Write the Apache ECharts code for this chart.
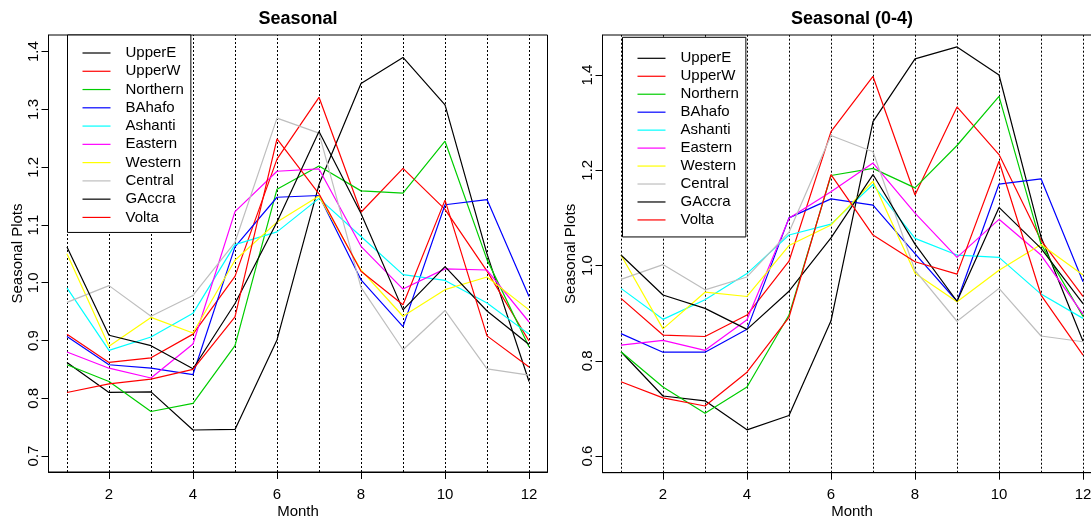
<!DOCTYPE html>
<html>
<head>
<meta charset="utf-8">
<script src="https://cdn.jsdelivr.net/npm/echarts@6/dist/echarts.min.js"></script>
<style>
html,body{margin:0;padding:0;background:#fff;overflow:hidden;}
#c{width:1091px;height:517px;}
</style>
</head>
<body>
<div id="c"></div>
<script>
// ---- data ----
const months = [1,2,3,4,5,6,7,8,9,10,11,12];
const seriesNames = ['UpperE','UpperW','Northern','BAhafo','Ashanti','Eastern','Western','Central','GAccra','Volta'];
const seriesColors = ['#000000','#FF0000','#00CD00','#0000FF','#00FFFF','#FF00FF','#FFFF00','#BEBEBE','#000000','#FF0000'];
const xTicks = [2,4,6,8,10,12];
const yTicksAll = [0.7,0.8,0.9,1.0,1.1,1.2,1.3,1.4];
const yTicks04 = [0.6,0.8,1.0,1.2,1.4];

// Panel 1: "Seasonal"
const upperE_all   = [0.862,0.810,0.811,0.745,0.746,0.901,1.170,1.345,1.390,1.308,1.050,0.829];
const upperW_all   = [0.911,0.862,0.870,0.911,1.011,1.214,1.321,1.122,1.198,1.127,1.020,0.899];
const northern_all = [0.858,0.829,0.777,0.791,0.891,1.162,1.202,1.159,1.155,1.245,1.040,0.889];
const bahafo_all   = [0.907,0.858,0.852,0.841,1.062,1.148,1.151,1.005,0.924,1.135,1.144,0.976];
const ashanti_all  = [0.991,0.883,0.906,0.947,1.066,1.088,1.146,1.080,1.014,1.004,0.965,0.911];
const eastern_all  = [0.880,0.852,0.835,0.894,1.123,1.193,1.197,1.063,0.989,1.024,1.022,0.932];
const western_all  = [1.050,0.890,0.940,0.913,1.039,1.105,1.150,1.022,0.942,0.988,1.010,0.953];
const central_all  = [0.966,0.995,0.942,0.978,1.070,1.285,1.259,0.992,0.884,0.952,0.851,0.840];
const gaccra_all   = [1.062,0.909,0.891,0.851,0.964,1.105,1.262,1.120,0.953,1.028,0.951,0.893];
const volta_all    = [0.810,0.825,0.833,0.850,0.941,1.249,1.154,1.020,0.962,1.143,0.908,0.854];

// Panel 2: "Seasonal (0-4)"
const upperE_04   = [0.819,0.726,0.716,0.655,0.685,0.884,1.302,1.434,1.459,1.400,1.060,0.841];
const upperW_04   = [0.931,0.854,0.851,0.896,1.009,1.281,1.397,1.148,1.333,1.233,1.053,0.935];
const northern_04 = [0.819,0.745,0.690,0.745,0.896,1.189,1.204,1.163,1.252,1.355,1.045,0.893];
const bahafo_04   = [0.857,0.818,0.818,0.866,1.100,1.140,1.127,1.025,0.925,1.171,1.182,0.966];
const ashanti_04  = [0.952,0.887,0.928,0.983,1.064,1.087,1.170,1.057,1.022,1.017,0.940,0.889];
const eastern_04  = [0.833,0.843,0.822,0.886,1.099,1.155,1.215,1.110,1.017,1.097,1.022,0.898];
const western_04  = [1.022,0.867,0.944,0.935,1.042,1.085,1.177,0.984,0.924,0.990,1.044,0.980];
const central_04  = [0.971,1.002,0.949,0.976,1.070,1.273,1.239,0.990,0.883,0.952,0.852,0.840];
const gaccra_04   = [1.022,0.938,0.910,0.866,0.946,1.058,1.191,1.045,0.925,1.122,1.036,0.920];
const volta_04    = [0.756,0.722,0.705,0.776,0.891,1.191,1.064,1.008,0.982,1.219,0.938,0.812];

const panelAll = [upperE_all,upperW_all,northern_all,bahafo_all,ashanti_all,eastern_all,western_all,central_all,gaccra_all,volta_all];
const panel04  = [upperE_04,upperW_04,northern_04,bahafo_04,ashanti_04,eastern_04,western_04,central_04,gaccra_04,volta_04];

// ---- chart ----
const FONT = 'Liberation Sans, Arial, sans-serif';
const chart = echarts.init(document.getElementById('c'), null, {renderer:'canvas'});

function makeSeries(panel, idx) {
  return panel.map((vals, i) => {
    const s = {
      name: seriesNames[i],
      type: 'line',
      xAxisIndex: idx,
      yAxisIndex: idx,
      data: months.map((m, k) => [m, vals[k]]),
      symbol: 'none',
      silent: true,
      color: seriesColors[i],
      lineStyle: {color: seriesColors[i], width: 1.2},
      z: 3
    };
    if (i === 0) {
      s.markLine = {
        silent: true,
        symbol: ['none','none'],
        label: {show: false},
        lineStyle: {color: '#000', width: 1, type: [2,2]},
        z: 1,
        data: months.map(m => ({xAxis: m}))
      };
    }
    return s;
  });
}

function xAxisDef(idx) {
  return {
    type: 'value', gridIndex: idx, min: 0.56, max: 12.44,
    name: 'Month', nameLocation: 'middle', nameGap: 32, nameMoveOverlap: false,
    nameTextStyle: {fontFamily: FONT, fontSize: 15, color: '#000', verticalAlign: 'top'},
    axisLine: {show: true, onZero: false, lineStyle: {color: '#000', width: 1}},
    axisTick: {show: true, inside: false, length: 7, customValues: xTicks, lineStyle: {color: '#000'}},
    axisLabel: {show: true, customValues: xTicks, margin: 15, fontFamily: FONT, fontSize: 15, color: '#000'},
    splitLine: {show: false}
  };
}
function yAxisDef(idx, mn, mx, ticks, lm, ng) {
  return {
    type: 'value', gridIndex: idx, min: mn, max: mx,
    name: 'Seasonal Plots', nameLocation: 'middle', nameGap: ng, nameRotate: 90, nameMoveOverlap: false,
    nameTextStyle: {fontFamily: FONT, fontSize: 15, color: '#000'},
    axisLine: {show: true, onZero: false, lineStyle: {color: '#000', width: 1}},
    axisTick: {show: true, inside: false, length: 7, customValues: ticks, lineStyle: {color: '#000'}},
    axisLabel: {show: true, customValues: ticks, rotate: 90, margin: lm, fontFamily: FONT, fontSize: 15, color: '#000',
      formatter: v => Number(v).toFixed(1)},
    splitLine: {show: false}
  };
}
function legendDef(left, top, gap, pad) {
  return {
    data: seriesNames.map(n => ({name: n})),
    orient: 'vertical', left: left, top: top,
    selectedMode: false,
    icon: 'rect',
    itemWidth: 28, itemHeight: 1.2, itemGap: gap,
    padding: pad,
    borderColor: '#000', borderWidth: 1, backgroundColor: '#fff',
    textStyle: {fontFamily: FONT, fontSize: 15, color: '#000', padding: [0,0,0,10], lineHeight: 16},
    z: 10
  };
}

const option = {
  animation: false,
  backgroundColor: '#fff',
  title: [
    {text: 'Seasonal', left: 298, top: 10, textAlign: 'center', padding: 0,
     textStyle: {fontFamily: FONT, fontSize: 18, fontWeight: 'bold', color: '#000'}},
    {text: 'Seasonal (0-4)', left: 852, top: 10, textAlign: 'center', padding: 0,
     textStyle: {fontFamily: FONT, fontSize: 18, fontWeight: 'bold', color: '#000'}}
  ],
  legend: [legendDef(67.5, 35, 2.27, [10, 7, 7, 15]), legendDef(622.5, 37.3, 1.96, [13, 7, 9, 15])],
  grid: [
    {left: 48.5, top: 35, width: 499, height: 437, show: true, borderColor: '#000', borderWidth: 1,
     backgroundColor: 'transparent', outerBoundsMode: 'none', containLabel: false},
    {left: 602.5, top: 35, width: 499, height: 437.7, show: true, borderColor: '#000', borderWidth: 1,
     backgroundColor: 'transparent', outerBoundsMode: 'none', containLabel: false}
  ],
  xAxis: [xAxisDef(0), xAxisDef(1)],
  yAxis: [yAxisDef(0, 0.6723, 1.4289, yTicksAll, 7, 23), yAxisDef(1, 0.565, 1.484, yTicks04, 7, 24)],
  series: makeSeries(panelAll, 0).concat(makeSeries(panel04, 1))
};
chart.setOption(option);
</script>
</body>
</html>
